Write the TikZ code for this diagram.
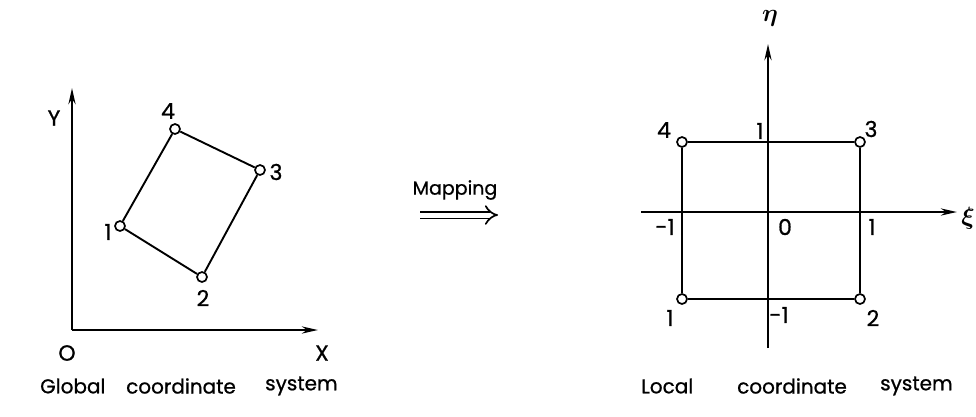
\documentclass[tikz,border=0pt]{standalone}
\usepackage{amsmath}
\usepackage{fontspec}
\setmainfont{Poppins}[FakeBold=0.8]
\usetikzlibrary{arrows.meta}
\begin{document}
\begin{tikzpicture}[x=1pt,y={(0,-1pt)},
  lbl/.style={font=\fontsize{22}{24}\selectfont, inner sep=0pt},
  greek/.style={font=\fontsize{34}{36}\selectfont, inner sep=0pt},
  captxt/.style={font=\fontsize{20}{24}\selectfont, inner sep=0pt},
  pt/.style={circle, draw, fill=white, line width=1.7pt, minimum size=10pt, inner sep=0pt},
  axis/.style={line width=2.6pt, -{Stealth[length=16pt,width=7pt]}},
  edge/.style={line width=1.9pt},
  sqedge/.style={line width=2.3pt}]
\useasboundingbox (0,0) rectangle (976,416);
% ---- left: global coordinate system
\coordinate (O) at (72,330);
\coordinate (Yt) at (72,88);
\coordinate (Xr) at (318,330);
\draw[axis] (O) -- (Yt);
\draw[axis] (O) -- (Xr);
\node[lbl] (Ylab) at (54,118) {Y};
\node[lbl] (Olab) at (67,353) {O};
\node[lbl] (Xlab) at (322,353) {X};
\node[pt] (g1) at (120,226) {};
\node[pt] (g2) at (202,277) {};
\node[pt] (g3) at (260,170) {};
\node[pt] (g4) at (175,129) {};
\draw[edge] (g1) -- (g2) -- (g3) -- (g4) -- (g1);
\node[lbl] (g1l) at (108,232) {1};
\node[lbl] (g2l) at (203,298) {2};
\node[lbl] (g3l) at (276,172) {3};
\node[lbl] (g4l) at (168,111) {4};
\node[captxt, anchor=west] (gc1) at (40,386) {Global};
\node[captxt, anchor=west] (gc2) at (126,386) {coordinate};
\node[captxt, anchor=west] (gc3) at (265,386) {system};
% ---- mapping
\node[lbl, font=\fontsize{19}{20}\selectfont] (map) at (455,190) {Mapping};
\coordinate (ma) at (420,215);
\coordinate (mb) at (498,215);
\draw[line width=1.7pt, double, double distance=5pt, -{Implies}] (ma) -- (mb);
% ---- right: local coordinate system
\coordinate (eb) at (768,348);
\coordinate (et) at (768,44);
\coordinate (xl) at (641,212);
\coordinate (xr) at (957,212);
\draw[axis] (eb) -- (et);
\draw[axis] (xl) -- (xr);
\node[greek] (eta) at (770,18) {$\boldsymbol{\eta}$};
\node[greek] (xi) at (968,218) {$\boldsymbol{\xi}$};
\node[pt] (l1) at (682,299) {};
\node[pt] (l2) at (860,299) {};
\node[pt] (l3) at (860,142) {};
\node[pt] (l4) at (682,142) {};
\draw[sqedge] (l1) -- (l2) -- (l3) -- (l4) -- (l1);
\node[lbl] (l4l) at (664,130) {4};
\node[lbl] (l3l) at (871,129) {3};
\node[lbl] (l1l) at (670,318) {1};
\node[lbl] (l2l) at (873,318) {2};
\node[lbl] (t1) at (760,131) {1};
\node[lbl] (tm1l) at (665,227) {-1};
\node[lbl] (t0) at (785,227) {0};
\node[lbl] (t1r) at (872,227) {1};
\node[lbl] (tm1b) at (779,315) {-1};
\node[captxt, anchor=west] (lc1) at (641,386) {Local};
\node[captxt, anchor=west] (lc2) at (737,386) {coordinate};
\node[captxt, anchor=west] (lc3) at (880,386) {system};
\end{tikzpicture}
\end{document}
